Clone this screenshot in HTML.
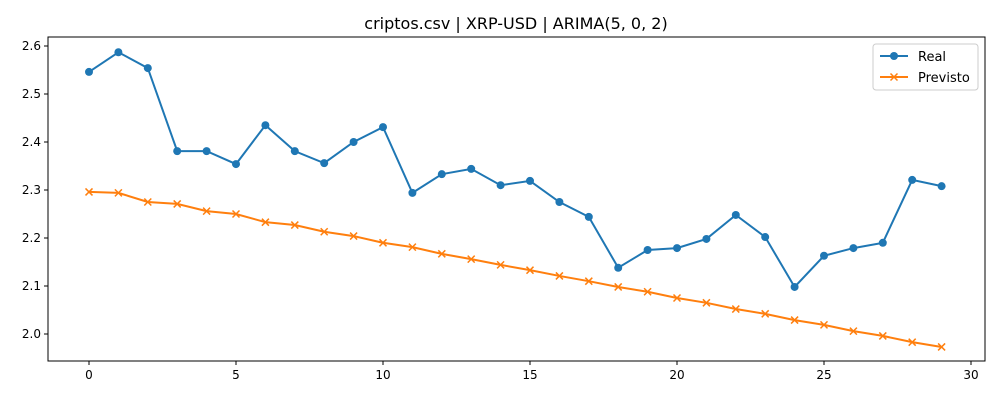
<!DOCTYPE html>
<html><head><meta charset="utf-8">
<style>
body{margin:0;background:#fff;font-family:"Liberation Sans","DejaVu Sans",sans-serif;}
svg text{font-family:"DejaVu Sans","Liberation Sans",sans-serif;}
</style></head>
<body>
<svg id="chart" width="1000" height="400" xmlns="http://www.w3.org/2000/svg">
<rect width="1000" height="400" fill="#fff"/>
<text x="516" y="29" font-size="16" text-anchor="middle" fill="#000">criptos.csv | XRP-USD | ARIMA(5, 0, 2)</text>
<g id="axes"></g>
<g id="series"></g>
<g>
<rect x="873" y="44" width="105" height="46" rx="3" fill="#fff" stroke="#ccc"/>
<line x1="880" y1="56" x2="908" y2="56" stroke="#1f77b4" stroke-width="2"/>
<circle cx="894" cy="56" r="4" fill="#1f77b4"/>
<text x="918" y="61" font-size="13">Real</text>
<line x1="880" y1="77" x2="908" y2="77" stroke="#ff7f0e" stroke-width="2"/>
<path d="M890.5 73.5 L897.5 80.5 M897.5 73.5 L890.5 80.5" stroke="#ff7f0e" stroke-width="1.5"/>
<text x="918" y="82" font-size="13">Previsto</text>
</g>
</svg>
<script>
const xTicks=[0,5,10,15,20,25,30];
const yTicks=[2.0,2.1,2.2,2.3,2.4,2.5,2.6];
const realValues=[2.546,2.587,2.554,2.381,2.381,2.354,2.435,2.381,2.356,2.400,2.431,2.294,2.333,2.344,2.310,2.319,2.275,2.244,2.138,2.175,2.179,2.198,2.248,2.202,2.098,2.163,2.179,2.190,2.321,2.308];
const forecastValues=[2.296,2.294,2.275,2.271,2.256,2.250,2.233,2.227,2.213,2.204,2.190,2.181,2.167,2.156,2.144,2.133,2.121,2.110,2.098,2.088,2.075,2.065,2.052,2.042,2.029,2.019,2.006,1.996,1.983,1.973];
const NS="http://www.w3.org/2000/svg";
const L=48,R=985,T=37,B=361;
const xs=v=>89+v*(971-89)/30;
const ys=v=>46+(2.6-v)*480;
function mk(tag,attrs,parent){const e=document.createElementNS(NS,tag);for(const k in attrs)e.setAttribute(k,attrs[k]);parent.appendChild(e);return e;}
const ax=document.getElementById('axes');
const frame=mk('rect',{x:L,y:T,width:R-L,height:B-T,fill:'none',stroke:'#000','stroke-width':1},ax);


xTicks.forEach(t=>{const x=xs(t);
mk('line',{x1:x,y1:B,x2:x,y2:B+4,stroke:'#000'},ax);
const tx=mk('text',{x:x,y:B+18,'font-size':12,'text-anchor':'middle'},ax);tx.textContent=t;

});
yTicks.forEach(t=>{const y=ys(t);
mk('line',{x1:L-4,y1:y,x2:L,y2:y,stroke:'#000'},ax);
const tx=mk('text',{x:L-7,y:y+4,'font-size':12,'text-anchor':'end'},ax);tx.textContent=t.toFixed(1);

});
const sg=document.getElementById('series');
function line(vals,color,name){
const p=mk('polyline',{points:vals.map((v,i)=>xs(i)+','+ys(v)).join(' '),fill:'none',stroke:color,'stroke-width':2},sg);

}
line(realValues,'#1f77b4','real');
line(forecastValues,'#ff7f0e','previsto');
realValues.forEach((v,i)=>{const c=mk('circle',{cx:xs(i),cy:ys(v),r:4,fill:'#1f77b4'},sg);

});
forecastValues.forEach((v,i)=>{const x=xs(i),y=ys(v);
const m=mk('path',{d:`M${x-3.5} ${y-3.5} L${x+3.5} ${y+3.5} M${x+3.5} ${y-3.5} L${x-3.5} ${y+3.5}`,stroke:'#ff7f0e','stroke-width':1.5},sg);

});
</script>
</body></html>
